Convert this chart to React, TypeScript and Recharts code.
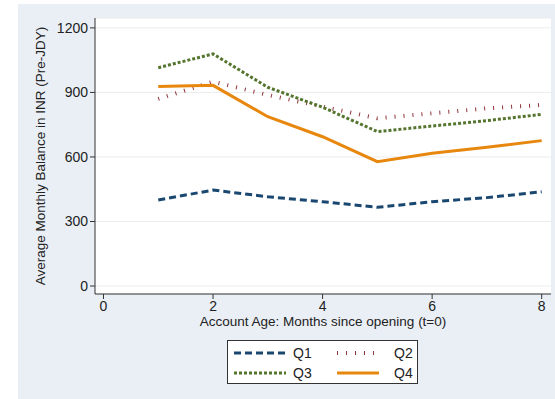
import { LineChart, Line, XAxis, YAxis, CartesianGrid } from 'recharts';

const months = [1, 2, 3, 4, 5, 6, 7, 8];
const q1 = [400, 446, 415, 392, 366, 392, 411, 438];
const q2 = [870, 950, 888, 834, 780, 803, 826, 842];
const q3 = [1015, 1079, 924, 831, 718, 744, 769, 798];
const q4 = [927, 933, 787, 694, 578, 617, 645, 676];
const xTicks = [0, 2, 4, 6, 8];
const yTicks = [0, 300, 600, 900, 1200];

const data = months.map((m, i) => ({ month: m, q1: q1[i], q2: q2[i], q3: q3[i], q4: q4[i] }));

const FONT = '"Liberation Sans", Arial, sans-serif';

const series = [
  { key: 'q1', name: 'Q1', color: '#1a476f', width: 3, dash: '7 4' },
  { key: 'q2', name: 'Q2', color: '#90353b', width: 4, dash: '1 8' },
  { key: 'q3', name: 'Q3', color: '#55752f', width: 3, dash: '3 2' },
  { key: 'q4', name: 'Q4', color: '#e8870e', width: 3, dash: undefined },
];

function LegendBox() {
  return (
    <div
      style={{
        position: 'absolute',
        left: 227,
        top: 340,
        width: 191,
        height: 44,
        border: '1px solid #333',
        background: '#fff',
        boxSizing: 'border-box',
        fontFamily: FONT,
        fontSize: 14,
        color: '#222',
      }}
    >
      {series.map((s, i) => (
        <div
          key={s.key}
          style={{
            position: 'absolute',
            left: i % 2 === 0 ? 6 : 109,
            top: i < 2 ? 3 : 23,
            display: 'flex',
            alignItems: 'center',
            height: 18,
          }}
        >
          <svg width={i % 2 === 0 ? 52 : 42} height={8} style={{ marginRight: i % 2 === 0 ? 7 : 15 }}>
            <line x1={0} y1={4} x2={52} y2={4} stroke={s.color} strokeWidth={s.width} strokeDasharray={s.dash} />
          </svg>
          <span>{s.name}</span>
        </div>
      ))}
    </div>
  );
}

export default function App() {
  return (
    <div style={{ position: 'absolute', left: 0, top: 0, width: 555, height: 399, background: '#fff' }}>
      <div style={{ position: 'absolute', left: 18, top: 4, width: 537, height: 395, background: '#eaeff5' }} />
      <div style={{ position: 'absolute', left: 0, top: 0 }}>
        <LineChart width={555} height={399} data={data} margin={{ top: 18, right: 4, left: 45, bottom: 75 }}>
          <CartesianGrid vertical={false} stroke="#ececec" fill="#fff" />
          <XAxis
            dataKey="month"
            type="number"
            domain={[-0.155, 8.17]}
            ticks={xTicks}
            height={30}
            tick={{ fill: '#222', fontSize: 14, fontFamily: FONT }}
            tickLine={{ stroke: '#333' }}
            tickSize={5}
            axisLine={{ stroke: '#333' }}
            label={{ value: 'Account Age: Months since opening (t=0)', position: 'insideBottom', offset: -2, fill: '#222', fontSize: 13.5, fontFamily: FONT }}
          />
          <YAxis
            type="number"
            domain={[-37, 1246]}
            ticks={yTicks}
            width={50}
            tick={{ fill: '#222', fontSize: 14, fontFamily: FONT }}
            tickLine={{ stroke: '#333' }}
            tickSize={5}
            axisLine={{ stroke: '#333' }}
            label={{ value: 'Average Monthly Balance in INR (Pre-JDY)', angle: -90, position: 'left', offset: 5, fill: '#222', fontSize: 13.5, fontFamily: FONT, style: { textAnchor: 'middle' } }}
          />
          {series.map((s) => (
            <Line
              key={s.key}
              dataKey={s.key}
              name={s.name}
              type="linear"
              stroke={s.color}
              strokeWidth={s.width}
              strokeDasharray={s.dash}
              dot={false}
              activeDot={false}
              isAnimationActive={false}
            />
          ))}
        </LineChart>
      </div>
      <LegendBox />
    </div>
  );
}
